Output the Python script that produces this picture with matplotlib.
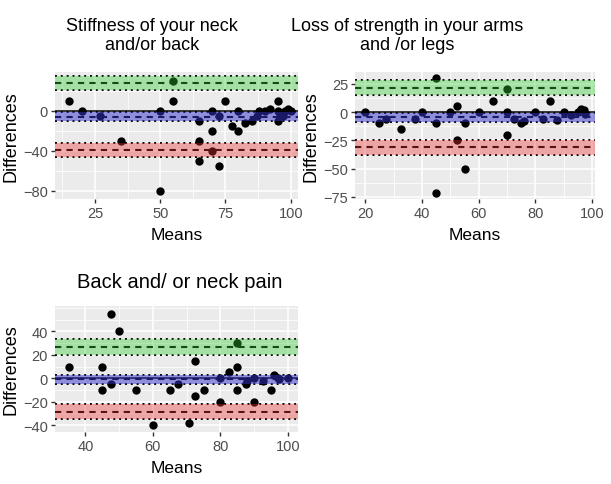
import matplotlib.pyplot as plt
from matplotlib.ticker import MultipleLocator

FONTE = ['Liberation Sans', 'DejaVu Sans']

# Painel 1 - rigidez do pescoço / costas
medias_1 = [15, 20, 27, 35, 50, 50, 55, 55, 65, 65, 65, 70, 70, 70, 72.5, 72.5, 75, 77.5,
            80, 80, 82.5, 85, 87, 88, 90, 92, 95, 95, 95, 96, 97, 98, 99, 100]
difs_1 = [10, 0, -5, -30, 0, -80, 10, 30, -10, -30, -50, 0, -20, -40, -55, -5, 10, -15,
          0, -20, -12, -10, -5, 0, 0, 2, 10, -10, 0, -3, -5, 0, 2, 0]

# Painel 2 - perda de força nos braços / pernas
medias_2 = [20, 25, 27.5, 32.5, 37.5, 40, 45, 45, 45, 50, 52.5, 52.5, 55, 55, 60, 65, 70, 70,
            70, 72.5, 75, 76, 80, 82.5, 85, 87.5, 90, 92.5, 95, 96, 97, 97.5]
difs_2 = [0, -10, -6, -15, -6, 0, 30, -10, -72, 0, 5, -25, -10, -50, 0, 10, 20, 0,
          -20, -6, -10, -8, 0, -6, 10, -7, 0, -3, 0, 3, 2, -2]

# Painel 3 - dor nas costas / pescoço
medias_3 = [35, 45, 45, 47.5, 47.5, 50, 55, 60, 65, 67.5, 70.7, 72.5, 72.5, 75, 80, 80, 82.5,
            85, 85, 85, 87.5, 88, 90, 90, 92.5, 95, 96, 97, 97.5, 100]
difs_3 = [10, 10, -10, 55, -5, 40, -10, -40, -10, -5, -38, 15, -15, -10, 0, -20, 5,
          30, 10, -10, -5, -2, 0, -20, -2, -10, 3, 0, -1, 0]

# viés e limites de concordância (centro, meia largura do IC)
vies = [(-5.5, 4.5), (-4.5, 4.0), (-1.0, 4.0)]
lim_sup = [(28, 7.0), (21.5, 6.6), (26.5, 6.6)]
lim_inf = [(-39, 7.0), (-31, 6.6), (-28.5, 6.6)]

titulos = ["Stiffness of your neck\nand/or back",
           "Loss of strength in your arms\nand /or legs",
           "Back and/ or neck pain"]


def painel(ax, medias, difs, v, sup, inf, xlim, ylim, xticks, yticks):
    ax.set_facecolor('#EBEBEB')
    for s in ax.spines.values():
        s.set_visible(False)
    ax.set_xlim(*xlim)
    ax.set_ylim(*ylim)
    ax.set_xticks(xticks)
    ax.set_yticks(yticks)
    ax.xaxis.set_minor_locator(MultipleLocator((xticks[1] - xticks[0]) / 2))
    ax.yaxis.set_minor_locator(MultipleLocator((yticks[1] - yticks[0]) / 2))
    ax.grid(True, which='major', color='white', linewidth=1.1, zorder=0)
    ax.grid(True, which='minor', color='white', linewidth=0.55, zorder=0)
    ax.set_axisbelow(True)
    ax.tick_params(which='major', length=3, width=1, color='#333333', pad=2,
                   labelcolor='#4D4D4D', labelsize=10.5)
    ax.tick_params(which='minor', length=0)

    ax.scatter(medias, difs, s=36, color='black', zorder=2, linewidths=0)
    ax.axhline(0, color='black', linewidth=1.1, zorder=3)

    # faixas semitransparentes por cima dos pontos e das linhas
    for (c, ci), cor in [(v, '#3333cc'), (sup, '#33cc33'), (inf, '#ee3333')]:
        ax.axhline(c, color='black', linestyle=(0, (3, 2.5)), linewidth=1.5, zorder=3)
        ax.axhline(c + ci, color='black', linestyle=(0, (1, 2)), linewidth=1.4, zorder=3)
        ax.axhline(c - ci, color='black', linestyle=(0, (1, 2)), linewidth=1.4, zorder=3)
        a = 0.5 if cor == '#3333cc' else 0.38
        ax.axhspan(c - ci, c + ci, color=cor, alpha=a, linewidth=0, zorder=4)

    ax.set_xlabel('Means', family=FONTE, fontsize=12.5, labelpad=5)
    ax.set_ylabel('Differences', family=FONTE, fontsize=13, labelpad=3)


plt.rcParams['font.family'] = FONTE
fig = plt.figure(figsize=(6.11, 4.85), dpi=100)
W, H = 611, 485

def caixa(x0, x1, y0, y1):
    return [x0 / W, 1 - y1 / H, (x1 - x0) / W, (y1 - y0) / H]

ax1 = fig.add_axes(caixa(55, 298, 73, 200))
ax2 = fig.add_axes(caixa(355, 595, 73, 200))
ax3 = fig.add_axes(caixa(55, 298, 307, 433))

painel(ax1, medias_1, difs_1, vies[0], lim_sup[0], lim_inf[0],
       (9.7, 102.8), (-88, 39), [25, 50, 75, 100], [-80, -40, 0])
painel(ax2, medias_2, difs_2, vies[1], lim_sup[1], lim_inf[1],
       (16.4, 101), (-77, 35.5), [20, 40, 60, 80, 100], [-75, -50, -25, 0, 25])
painel(ax3, medias_3, difs_3, vies[2], lim_sup[2], lim_inf[2],
       (31, 103), (-45.8, 61.6), [40, 60, 80, 100], [-40, -20, 0, 20, 40])

# títulos posicionados à mão
fig.text(152 / W, 1 - 36 / H, titulos[0], ha='center', va='center',
         fontsize=13, linespacing=1.2)
fig.text(407 / W, 1 - 36 / H, titulos[1], ha='center', va='center',
         fontsize=13, linespacing=1.2)
fig.text(180 / W, 1 - 283 / H, titulos[2], ha='center', va='center', fontsize=14.5)

plt.savefig('out.png', dpi=100)
